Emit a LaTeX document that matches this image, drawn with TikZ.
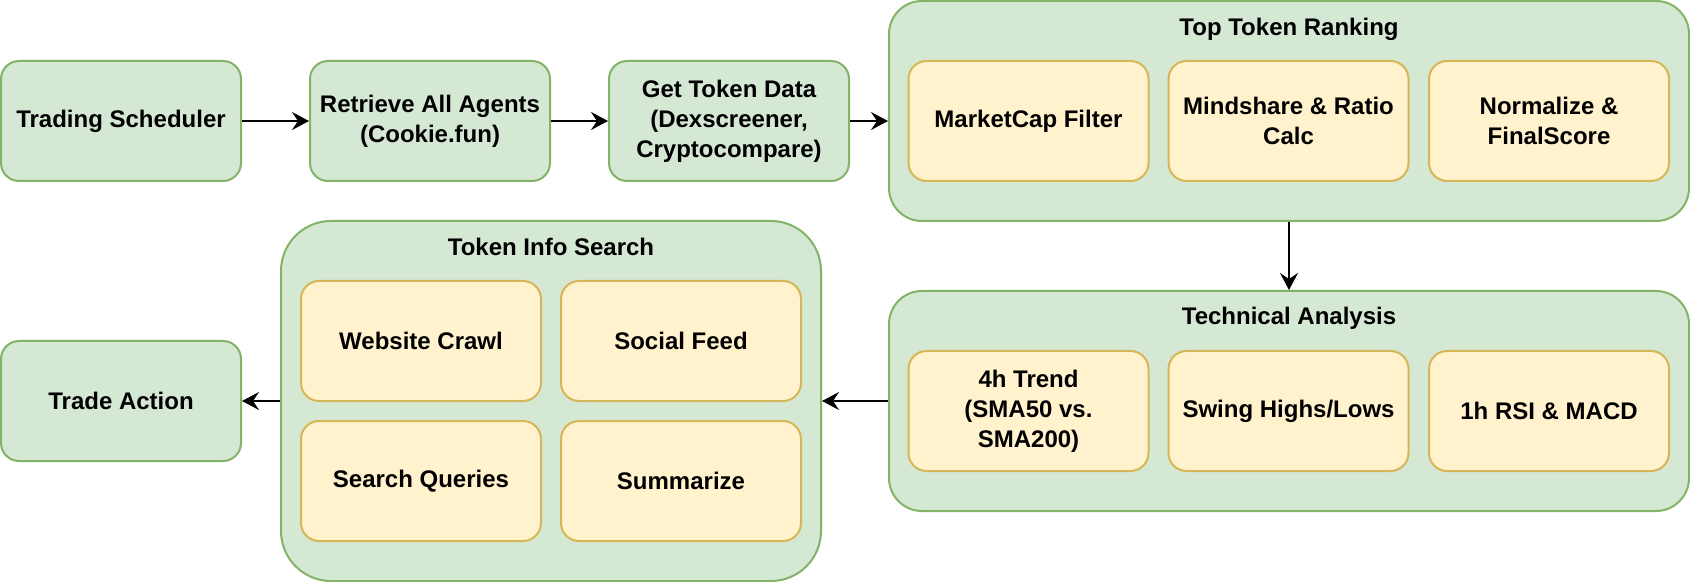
\documentclass[tikz,border=0pt]{standalone}
\usepackage{fontspec}
\setmainfont{Liberation Sans}
\usetikzlibrary{arrows.meta}
\definecolor{gfill}{HTML}{D5E8D4}
\definecolor{gline}{HTML}{82B366}
\definecolor{yfill}{HTML}{FFF2CC}
\definecolor{yline}{HTML}{D6B656}
\tikzset{
  px/.style={x=0.5pt,y=-0.5pt},
  gbox/.style={draw=gline, fill=gfill, line width=1pt, rounded corners=9pt,
    minimum width=120pt, minimum height=60pt, inner sep=0pt, align=center,
    font=\fontsize{12pt}{15pt}\selectfont\bfseries},
  ybox/.style={draw=yline, fill=yfill, line width=1pt, rounded corners=9pt,
    minimum width=120pt, minimum height=60pt, inner sep=0pt, align=center,
    font=\fontsize{12pt}{15pt}\selectfont\bfseries},
  cont/.style={draw=gline, fill=gfill, line width=1pt, inner sep=0pt},
  ctitle/.style={inner sep=0pt, font=\fontsize{12pt}{15pt}\selectfont\bfseries},
  arr/.style={-{Stealth[length=8.5pt,width=9pt,inset=3pt]}, line width=0.9pt, black},
}
\begin{document}
\begin{tikzpicture}[px]
\useasboundingbox (0,0) rectangle (1690,582);
% containers
\node[cont, rounded corners=16.5pt, minimum width=400pt, minimum height=110pt] (ttr) at (1289,111) {};
\node[ctitle] (ttrT) at (1289,29) {Top Token Ranking};
\node[cont, rounded corners=16.5pt, minimum width=400pt, minimum height=110pt] (ta) at (1289,401) {};
\node[ctitle] (taT) at (1289,318) {Technical Analysis};
\node[cont, rounded corners=25pt, minimum width=270pt, minimum height=180pt] (tis) at (551,401) {};
\node[ctitle] (tisT) at (551,247) {Token Info Search};
% top row
\node[gbox] (ts) at (121,121) {Trading Scheduler};
\node[gbox] (ra) at (430,121) {Retrieve All Agents\\(Cookie.fun)};
\node[gbox] (gtd) at (729,121) {Get Token Data\\(Dexscreener,\\Cryptocompare)};
\node[ybox] (mc) at (1028.5,121) {MarketCap Filter};
\node[ybox] (mr) at (1288.5,121) {Mindshare \& Ratio\\Calc};
\node[ybox] (nf) at (1549,121) {Normalize \&\\FinalScore};
% technical analysis
\node[ybox] (tr) at (1028.5,411) {4h Trend\\(SMA50 vs.\\SMA200)};
\node[ybox] (sw) at (1288.5,411) {Swing Highs/Lows};
\node[ybox] (rsi) at (1549,411) {1h RSI \& MACD};
% token info search
\node[ybox] (wc) at (421,341) {Website Crawl};
\node[ybox] (sf) at (681,341) {Social Feed};
\node[ybox] (sq) at (421,481) {Search Queries};
\node[ybox] (sm) at (681,481) {Summarize};
% trade action
\node[gbox] (tra) at (121,401) {Trade Action};
% connectors
\draw[arr] (ts) -- (ra);
\draw[arr] (ra) -- (gtd);
\draw[arr] (gtd.east) -- (gtd.east -| ttr.west);
\draw[arr] (ttr) -- (ta);
\draw[arr] (ta) -- (tis);
\draw[arr] (tis) -- (tra);
\end{tikzpicture}
\end{document}
